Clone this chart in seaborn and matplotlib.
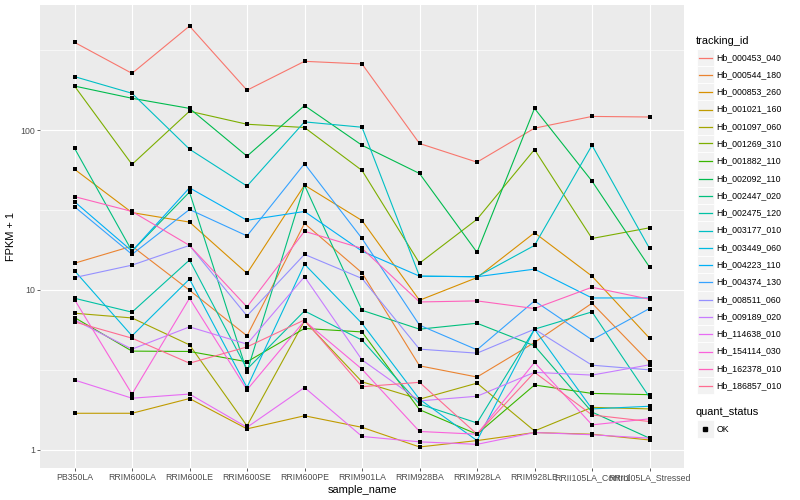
import numpy as np
import pandas as pd
import matplotlib
matplotlib.use("Agg")
import matplotlib.pyplot as plt
import seaborn as sns
from matplotlib.lines import Line2D
from matplotlib.patches import Rectangle
from matplotlib.ticker import NullFormatter

# samples in plotting order
samples = ["PB350LA", "RRIM600LA", "RRIM600LE", "RRIM600SE", "RRIM600PE", "RRIM901LA",
           "RRIM928BA", "RRIM928LA", "RRIM928LE", "RRII105LA_Control", "RRII105LA_Stressed"]

tracking_ids = ["Hb_000453_040", "Hb_000544_180", "Hb_000853_260", "Hb_001021_160",
                "Hb_001097_060", "Hb_001269_310", "Hb_001882_110", "Hb_002092_110",
                "Hb_002447_020", "Hb_002475_120", "Hb_003177_010", "Hb_003449_060",
                "Hb_004223_110", "Hb_004374_130", "Hb_008511_060", "Hb_009189_020",
                "Hb_114638_010", "Hb_154114_030", "Hb_162378_010", "Hb_186857_010"]

# FPKM + 1
hb_000453_040 = [355, 227, 449, 178, 270, 260, 82.6, 63.1, 103, 122, 121]
hb_000544_180 = [14.7, 18.8, 9.96, 5.16, 26.1, 12.8, 3.35, 2.85, 4.69, 8.26, 3.52]
hb_000853_260 = [57.0, 30.5, 26.6, 12.7, 45.3, 27.2, 8.62, 11.95, 22.8, 12.2, 4.99]
hb_001021_160 = [1.69, 1.69, 2.09, 1.35, 1.63, 1.38, 1.04, 1.14, 1.28, 1.25, 1.15]
hb_001097_060 = [7.15, 6.68, 4.53, 1.41, 6.40, 2.66, 2.07, 2.61, 1.31, 1.84, 1.80]
hb_001269_310 = [189, 61.1, 131.5, 109, 104, 56.0, 14.7, 27.7, 75.7, 21.0, 24.5]
hb_001882_110 = [6.72, 4.14, 4.12, 3.55, 5.74, 5.46, 1.78, 1.25, 2.54, 2.25, 2.21]
hb_002092_110 = [189, 158.5, 137, 68.8, 142.6, 80.5, 53.6, 17.2, 137, 48.0, 13.9]
hb_002447_020 = [77.2, 17.5, 41.0, 3.07, 45.3, 7.46, 5.68, 6.19, 4.47, 1.72, 1.18]
hb_002475_120 = [8.87, 7.26, 15.4, 3.19, 7.39, 4.85, 1.93, 1.47, 5.68, 7.29, 2.13]
hb_003177_010 = [216.6, 170.3, 76.1, 44.7, 112.8, 104.4, 12.2, 12.1, 19.0, 80.5, 18.2]
hb_003449_060 = [13.2, 5.16, 11.7, 2.45, 14.5, 6.17, 2.07, 1.14, 5.68, 1.80, 1.87]
hb_004223_110 = [35.7, 17.5, 43.6, 27.3, 31.0, 17.5, 12.2, 12.1, 13.5, 8.91, 8.91]
hb_004374_130 = [33.2, 16.7, 31.9, 21.8, 61.7, 21.0, 6.02, 4.22, 8.54, 4.87, 7.65]
hb_008511_060 = [11.95, 14.3, 19.0, 6.88, 16.7, 11.8, 4.26, 4.02, 5.68, 3.38, 3.16]
hb_009189_020 = [6.49, 4.26, 5.87, 4.58, 12.1, 3.65, 2.02, 2.16, 3.05, 2.93, 3.40]
hb_114638_010 = [2.73, 2.10, 2.23, 1.38, 2.45, 1.21, 1.12, 1.08, 1.28, 1.24, 1.18]
hb_154114_030 = [8.71, 2.23, 8.87, 2.37, 6.40, 3.19, 1.30, 1.25, 3.52, 1.43, 1.56]
hb_162378_010 = [38.4, 31.0, 19.0, 7.83, 23.3, 18.2, 8.41, 8.54, 7.65, 10.4, 8.75]
hb_186857_010 = [6.31, 4.99, 3.48, 4.40, 6.49, 2.48, 2.64, 1.25, 3.05, 1.65, 1.50]

series = [hb_000453_040, hb_000544_180, hb_000853_260, hb_001021_160, hb_001097_060,
          hb_001269_310, hb_001882_110, hb_002092_110, hb_002447_020, hb_002475_120,
          hb_003177_010, hb_003449_060, hb_004223_110, hb_004374_130, hb_008511_060,
          hb_009189_020, hb_114638_010, hb_154114_030, hb_162378_010, hb_186857_010]

# ggplot default hue palette, 20 levels
hue_colors = ["#F8766D", "#EA8331", "#D89000", "#C09B00", "#A3A500", "#7CAE00", "#39B600",
              "#00BB4E", "#00BF7D", "#00C1A3", "#00BFC4", "#00BAE0", "#00B0F6", "#35A2FF",
              "#9590FF", "#C77CFF", "#E76BF3", "#FA62DB", "#FF62BC", "#FF6C91"]

rows = [(tid, s, v) for tid, vals in zip(tracking_ids, series) for s, v in zip(samples, vals)]
df = pd.DataFrame(rows, columns=["tracking_id", "sample_name", "fpkm_plus1"])
df["sample_name"] = pd.Categorical(df["sample_name"], categories=samples)
df["quant_status"] = "OK"

plt.rcParams["font.family"] = ["Liberation Sans", "DejaVu Sans"]

W, H = 800, 500
fig = plt.figure(figsize=(W / 100, H / 100), dpi=100)
ax = fig.add_axes([40 / W, 1 - 468 / H, (684 - 40) / W, (468 - 5) / H])
ax.set_facecolor("#EBEBEB")

sns.lineplot(data=df, x="sample_name", y="fpkm_plus1", hue="tracking_id",
             palette=hue_colors, sort=False, estimator=None, lw=0.8,
             legend=False, ax=ax)
sns.scatterplot(data=df, x="sample_name", y="fpkm_plus1", color="black", marker="s",
                s=6, linewidth=0, legend=False, ax=ax, zorder=3)

ax.set_yscale("log")
lo, hi = np.log10(df["fpkm_plus1"].min()), np.log10(df["fpkm_plus1"].max())
pad = 0.05 * (hi - lo)
ax.set_ylim(10 ** (lo - pad), 10 ** (hi + pad))
ax.set_xlim(-0.6, len(samples) - 1 + 0.6)

ax.set_yticks([1, 10, 100])
ax.set_yticklabels(["1", "10", "100"])
ax.set_yticks([10 ** 0.5, 10 ** 1.5, 10 ** 2.5], minor=True)
ax.yaxis.set_minor_formatter(NullFormatter())
ax.tick_params(which="minor", length=0)
ax.tick_params(which="major", length=2, width=0.55, color="#333333",
               labelsize=6.3, labelcolor="#4D4D4D", pad=1.6)

ax.grid(which="major", color="white", lw=0.8)
ax.grid(which="minor", axis="y", color="white", lw=0.4)
ax.set_axisbelow(True)
for sp in ax.spines.values():
    sp.set_visible(False)

ax.set_xlabel("sample_name", fontsize=7.9, labelpad=2.5)
ax.set_ylabel("FPKM + 1", fontsize=7.9, labelpad=3)


# legends, laid out like ggplot's guide boxes (pixel coords from top-left)
def fx(x):
    return x / W


def fy(y):
    return 1 - y / H


key_w, key_h = 17, 17.28
fig.text(fx(696), fy(41), "tracking_id", fontsize=7.9, va="center", ha="left")
for i, (tid, col) in enumerate(zip(tracking_ids, hue_colors)):
    yc = 57.3 + i * key_h
    yl = np.floor(yc) + 0.5  # snap key line to a pixel row
    fig.patches.append(Rectangle((fx(696.5), fy(yc + key_h / 2)), key_w / W, key_h / H,
                                 transform=fig.transFigure, facecolor="#F2F2F2",
                                 edgecolor="white", lw=0.6))
    fig.lines.append(Line2D([fx(698.5), fx(711.5)], [fy(yl), fy(yl)],
                            transform=fig.transFigure, color=col, lw=0.9))
    fig.text(fx(716.5), fy(yc), tid, fontsize=6.3, va="center", ha="left")

fig.text(fx(696), fy(412), "quant_status", fontsize=7.9, va="center", ha="left")
yc = 429
fig.patches.append(Rectangle((fx(696.5), fy(yc + key_h / 2)), key_w / W, key_h / H,
                             transform=fig.transFigure, facecolor="#F2F2F2",
                             edgecolor="white", lw=0.6))
fig.lines.append(Line2D([fx(705)], [fy(yc)], transform=fig.transFigure, color="black",
                        marker="s", markersize=2.4, lw=0))
fig.text(fx(716.5), fy(yc), "OK", fontsize=6.3, va="center", ha="left")

fig.savefig("out.png", dpi=100)
